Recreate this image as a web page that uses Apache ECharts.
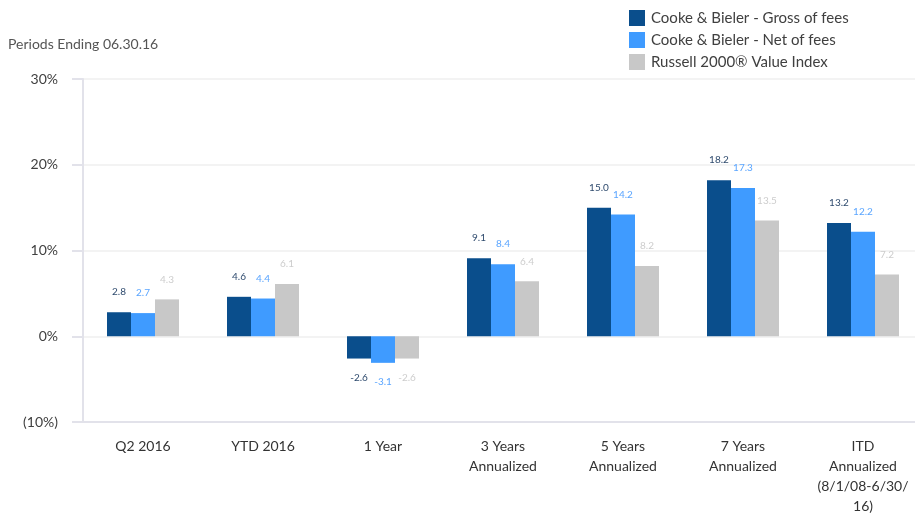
<!DOCTYPE html>
<html>
<head>
<meta charset="utf-8">
<script src="https://cdn.jsdelivr.net/npm/echarts@6/dist/echarts.min.js"></script>
<style>
  html, body { margin: 0; padding: 0; background: #fff; }
  #chart { width: 915px; height: 514px; }
</style>
</head>
<body>
<div id="chart"></div>
<script>
// 类目与数据
var categories = ['Q2 2016', 'YTD 2016', '1 Year', '3 Years\nAnnualized', '5 Years\nAnnualized', '7 Years\nAnnualized', 'ITD\nAnnualized\n(8/1/08-6/30/\n16)'];
var grossData = [2.8, 4.6, -2.6, 9.1, 15.0, 18.2, 13.2];
var netData = [2.7, 4.4, -3.1, 8.4, 14.2, 17.3, 12.2];
var indexData = [4.3, 6.1, -2.6, 6.4, 8.2, 13.5, 7.2];
var seriesNames = ['Cooke & Bieler - Gross of fees', 'Cooke & Bieler - Net of fees', 'Russell 2000® Value Index'];
var yTicks = [-10, 0, 10, 20, 30];

var fontFam = 'Lato, "Open Sans", sans-serif';

// 正值标签在上，负值标签在下
function toItems(arr) {
    return arr.map(function(v) {
        return {
            value: v,
            label: { position: v < 0 ? 'bottom' : 'top', distance: v < 0 ? 14 : 15 }
        };
    });
}

function barSeries(name, arr, color, labelColor) {
    return {
        name: name,
        type: 'bar',
        barWidth: 24,
        barGap: '0%',
        data: toItems(arr),
        itemStyle: { color: color },
        label: {
            show: true,
            color: labelColor,
            fontSize: 10,
            fontFamily: fontFam,
            formatter: function(p) { return p.value.toFixed(1); }
        }
    };
}

var myChart = echarts.init(document.getElementById('chart'));
var option = {
    animation: false,
    backgroundColor: '#fff',
    title: {
        text: 'Periods Ending 06.30.16',
        left: 3,
        top: 32,
        textStyle: { fontSize: 14, fontWeight: 'normal', color: '#555', fontFamily: fontFam }
    },
    legend: {
        orient: 'vertical',
        left: 624,
        top: 5,
        itemWidth: 16,
        itemHeight: 16,
        itemGap: 6,
        icon: 'rect',
        data: seriesNames,
        textStyle: { fontSize: 15, color: '#404040', fontFamily: fontFam, lineHeight: 16, padding: [0, 0, 0, 1] }
    },
    grid: {
        left: 83,
        right: -8,
        top: 79,
        bottom: 92,
        containLabel: false,
        outerBoundsMode: 'none'
    },
    xAxis: {
        type: 'category',
        data: categories,
        position: 'bottom',
        axisLine: { onZero: false, lineStyle: { color: '#e2e2ea', width: 2 } },
        axisTick: { show: false },
        axisLabel: {
            interval: 0,
            color: '#333',
            fontSize: 14,
            lineHeight: 20,
            margin: 14,
            fontFamily: fontFam
        }
    },
    yAxis: {
        type: 'value',
        min: yTicks[0],
        max: yTicks[yTicks.length - 1],
        interval: 10,
        axisLine: { show: true, lineStyle: { color: '#e2e2ea', width: 2 } },
        axisTick: { show: true, length: 11, lineStyle: { color: '#e2e2ea', width: 2 } },
        splitLine: { lineStyle: { color: '#f3f3f3', width: 2 } },
        axisLabel: {
            color: '#404040',
            fontSize: 14,
            margin: 25,
            fontFamily: fontFam,
            formatter: function(v) {
                return v < 0 ? '(' + Math.abs(v) + '%)' : v + '%';
            }
        }
    },
    series: [
        barSeries(seriesNames[0], grossData, '#0a4e8c', '#2f4b6e'),
        barSeries(seriesNames[1], netData, '#3f9bff', '#5aa5ff'),
        barSeries(seriesNames[2], indexData, '#c8c8c8', '#cdcdcd')
    ]
};
myChart.setOption(option);
</script>
</body>
</html>
